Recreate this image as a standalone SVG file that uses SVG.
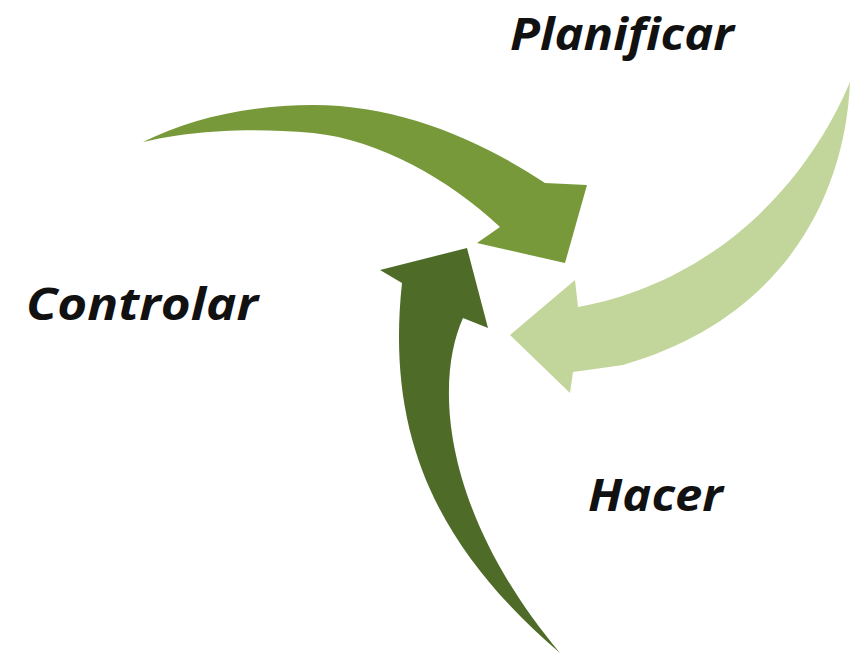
<svg xmlns="http://www.w3.org/2000/svg" width="864" height="655" viewBox="0 0 864 655">
<style>
.lbl{font-family:"Open Sans","Liberation Sans",sans-serif;font-weight:bold;font-style:italic;font-size:44px;fill:#111111}
.a1{fill:#77993a}
.a2{fill:#c2d69b}
.a3{fill:#4f6b28}
</style>
<rect width="864" height="655" fill="#ffffff"/>
<g id="connectors">
<path class="a1" d="M143,142 C190,118 250,105 313,105 C400,105 480,140 545,183 L587,185 L565,263 L477,243 L500,227 C450,180 380,140 313,133 C240,126 180,133 143,142 Z"/>
<path class="a2" d="M850,82 C845,200 780,320 623,365 L573,372 L570,393 L510,335 L575,280 L578,307 C700,285 800,200 850,82 Z"/>
<path class="a3" d="M560,653 C440,550 385,440 402,283 L380,270 L467,248 L488,328 L463,318 C435,380 440,510 560,653 Z"/>
</g>
<g id="planificar"><text class="lbl" x="510" y="50" textLength="224" lengthAdjust="spacingAndGlyphs">Planificar</text></g>
<g id="controlar"><text class="lbl" x="26" y="320" textLength="232" lengthAdjust="spacingAndGlyphs">Controlar</text></g>
<g id="hacer"><text class="lbl" x="588" y="511" textLength="135" lengthAdjust="spacingAndGlyphs">Hacer</text></g>
</svg>
